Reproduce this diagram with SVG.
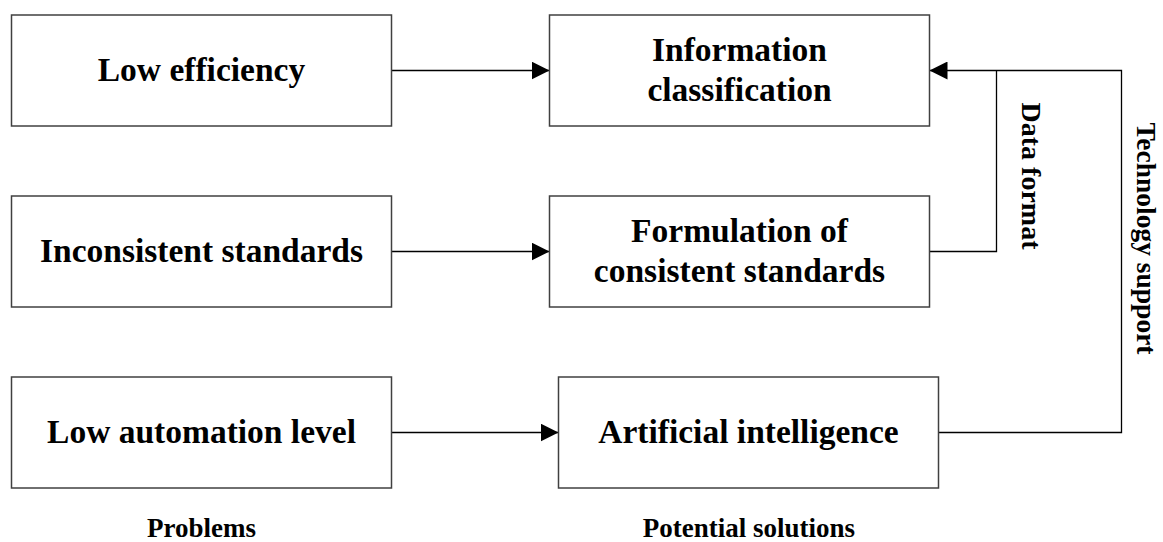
<svg xmlns="http://www.w3.org/2000/svg" width="1163" height="542" viewBox="0 0 1163 542">
  <style>
    .box { fill: #ffffff; stroke: #404040; stroke-width: 1.5; }
    .lbl { font-family: "Liberation Serif", "Times New Roman", serif; font-weight: bold; font-size: 33.5px; fill: #000; text-anchor: middle; }
    .side { font-family: "Liberation Serif", "Times New Roman", serif; font-weight: bold; font-size: 28px; fill: #000; text-anchor: middle; }
    .cap { font-family: "Liberation Serif", "Times New Roman", serif; font-weight: bold; font-size: 27px; fill: #000; text-anchor: middle; }
    .conn { fill: none; stroke: #000; stroke-width: 1.3; }
  </style>
  <defs>
    <marker id="arrow" markerUnits="userSpaceOnUse" markerWidth="18" markerHeight="18" refX="18" refY="9" orient="auto">
      <path d="M0,0 L18,9 L0,18 Z" fill="#000"/>
    </marker>
  </defs>
  <rect width="1163" height="542" fill="#ffffff"/>

  <g id="connectors">
    <line class="conn" x1="391.5" y1="70.5" x2="549.5" y2="70.5" marker-end="url(#arrow)"/>
    <line class="conn" x1="391.5" y1="251.5" x2="549.5" y2="251.5" marker-end="url(#arrow)"/>
    <line class="conn" x1="391.5" y1="432.5" x2="558.5" y2="432.5" marker-end="url(#arrow)"/>
    <polyline class="conn" points="929.5,251.5 996.5,251.5 996.5,70.5"/>
    <polyline class="conn" points="938.5,432.5 1121.5,432.5 1121.5,70.5 929.5,70.5" marker-end="url(#arrow)"/>
  </g>

  <g id="node-low-efficiency">
    <rect class="box" x="11.5" y="15" width="380" height="111"/>
    <text class="lbl" x="201.5" y="81">Low efficiency</text>
  </g>
  <g id="node-inconsistent-standards">
    <rect class="box" x="11.5" y="196" width="380" height="111"/>
    <text class="lbl" x="201.5" y="262">Inconsistent standards</text>
  </g>
  <g id="node-low-automation">
    <rect class="box" x="11.5" y="377" width="380" height="111"/>
    <text class="lbl" x="201.5" y="443">Low automation level</text>
  </g>
  <g id="node-information-classification">
    <rect class="box" x="549.5" y="15" width="380" height="111"/>
    <text class="lbl" x="739.5" y="61">Information</text>
    <text class="lbl" x="739.5" y="101">classification</text>
  </g>
  <g id="node-formulation">
    <rect class="box" x="549.5" y="196" width="380" height="111"/>
    <text class="lbl" x="739.5" y="242">Formulation of</text>
    <text class="lbl" x="739.5" y="282">consistent standards</text>
  </g>
  <g id="node-artificial-intelligence">
    <rect class="box" x="558.5" y="377" width="380" height="111"/>
    <text class="lbl" x="748.5" y="443">Artificial intelligence</text>
  </g>

  <g id="edge-labels">
    <text class="side" transform="translate(1022,176) rotate(90)" x="0" y="0">Data format</text>
    <text class="side" transform="translate(1137,238.5) rotate(90)" x="0" y="0" style="font-size:27.5px">Technology support</text>
  </g>

  <g id="column-captions">
    <text class="cap" x="201.5" y="537">Problems</text>
    <text class="cap" x="749" y="537">Potential solutions</text>
  </g>
</svg>
